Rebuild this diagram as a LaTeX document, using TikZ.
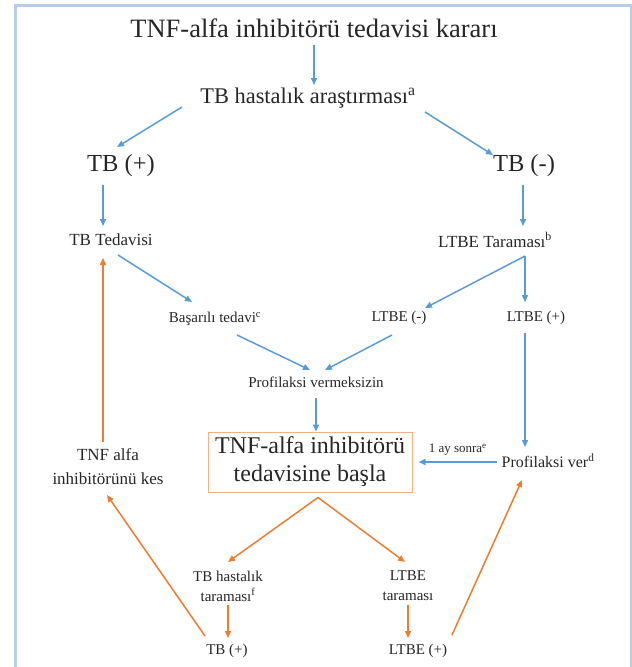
\documentclass[tikz,border=0pt]{standalone}
\usepackage{fontspec}
\setmainfont{Liberation Serif}
\usetikzlibrary{arrows.meta,calc}

\definecolor{arrowblue}{RGB}{91,155,213}
\definecolor{arroworange}{RGB}{237,125,49}
\definecolor{frameblue}{RGB}{184,204,236}
\definecolor{boxorange}{RGB}{244,177,131}

\newcommand{\fs}[1]{\fontsize{#1}{#1}\selectfont}

\begin{document}
\begin{tikzpicture}[x=1pt,y=-1pt,
    lbl/.style={inner sep=0pt, text=black!85, align=center},
    barrow/.style={-{Triangle[length=7pt,width=6pt]}, line width=1.5pt, arrowblue},
    oarrow/.style={-{Triangle[length=7pt,width=6pt]}, line width=1.5pt, arroworange}]

    \useasboundingbox (0,0) rectangle (632,667);

    % Frame
    \draw[frameblue, line width=3pt] (15,680) -- (15,5) -- (631,5) -- (631,680);

    % Top part
    \node[lbl, font=\fs{26.5}] (karar) at (314,28) {TNF-alfa inhibitörü tedavisi kararı};
    \node[lbl, font=\fs{22.4}] (arast) at (308,98) {TB hastalık araştırması\textsuperscript{a}};
    \node[lbl, font=\fs{24.5}] (tbpos) at (121,166) {TB (+)};
    \node[lbl, font=\fs{24.5}] (tbneg) at (524,166) {TB (-)};
    \node[lbl, font=\fs{17}] (tbted) at (111,240) {TB Tedavisi};
    \node[lbl, font=\fs{17}] (ltbetar) at (495,240) {LTBE Taraması\textsuperscript{b}};

    % Middle part
    \node[lbl, font=\fs{15}] (basarili) at (215,319) {Başarılı tedavi\textsuperscript{c}};
    \node[lbl, font=\fs{15}] (ltbeneg) at (399,318) {LTBE (-)};
    \node[lbl, font=\fs{15}] (ltbepos) at (536,318) {LTBE (+)};
    \node[lbl, font=\fs{15}] (profvm) at (316,382) {Profilaksi vermeksizin};
    \node[lbl, draw=boxorange, line width=1pt, minimum width=204pt, minimum height=60pt,
        font=\fontsize{24}{28}\selectfont] (basla) at (310,462) {TNF-alfa inhibitörü\\tedavisine başla};
    \node[lbl, font=\fs{16}] (profver) at (548,461) {Profilaksi ver\textsuperscript{d}};
    \node[lbl, font=\fontsize{17}{24}\selectfont] (kes) at (108,467) {TNF alfa\\inhibitörünü kes};

    % Bottom part
    \node[lbl, font=\fontsize{15}{20}\selectfont] (tbtar) at (228,586) {TB hastalık\\taraması\textsuperscript{f}};
    \node[lbl, font=\fontsize{15}{20}\selectfont] (ltbetar2) at (408,586) {LTBE\\taraması};
    \node[lbl, font=\fs{15}] (tbpos2) at (227,651) {TB (+)};
    \node[lbl, font=\fs{15}] (ltbepos2) at (418,651) {LTBE (+)};

    % Blue arrows
    \draw[barrow] ([shift={(0,17)}]karar.center) -- ([shift={(6,-13)}]arast.center);
    \draw[barrow] ([shift={(-126,9)}]arast.center) -- ([shift={(-4,-19)}]tbpos.center);
    \draw[barrow] ([shift={(117,14)}]arast.center) -- ([shift={(-31,-11)}]tbneg.center);
    \draw[barrow] ([shift={(-18,19)}]tbpos.center) -- ([shift={(-8,-14)}]tbted.center);
    \draw[barrow] ([shift={(-1,19)}]tbneg.center) -- ([shift={(28,-14)}]ltbetar.center);
    \draw[barrow] ([shift={(7,15)}]tbted.center) -- ([shift={(-23,-17)}]basarili.center);
    \draw[barrow] ([shift={(30,16)}]ltbetar.center) -- ([shift={(26,-10)}]ltbeneg.center);
    \draw[barrow] ([shift={(30,16)}]ltbetar.center) -- ([shift={(-11,-16)}]ltbepos.center);
    \draw[barrow] ([shift={(22,16)}]basarili.center) -- ([shift={(-6,-12)}]profvm.center);
    \draw[barrow] ([shift={(-7,17)}]ltbeneg.center) -- ([shift={(9,-12)}]profvm.center);
    \draw[barrow] ([shift={(0,16)}]profvm.center) -- (basla.north -| profvm.center);
    \draw[barrow] ([shift={(-11,15)}]ltbepos.center) -- ([shift={(-23,-14)}]profver.center);
    \draw[barrow] ([shift={(-51,1)}]profver.center) -- node[lbl, above=6pt, font=\fs{13}]
        {1 ay sonra\textsuperscript{e}} ([shift={(6,0)}]basla.east);

    % Orange arrows
    \draw[oarrow] ([shift={(-5,-25)}]kes.center) -- ([shift={(-8,18)}]tbted.center);
    \draw[oarrow] ([shift={(8,5)}]basla.south) -- ([shift={(0,-24)}]tbtar.center);
    \draw[oarrow] ([shift={(8,5)}]basla.south) -- ([shift={(-3,-24)}]ltbetar2.center);
    \draw[oarrow] ([shift={(0,19)}]tbtar.center) -- ([shift={(1,-13)}]tbpos2.center);
    \draw[oarrow] ([shift={(0,19)}]ltbetar2.center) -- ([shift={(-10,-13)}]ltbepos2.center);
    \draw[oarrow] ([shift={(-22,-15)}]tbpos2.center) -- ([shift={(-1,28)}]kes.center);
    \draw[oarrow] ([shift={(34,-16)}]ltbepos2.center) -- ([shift={(-26,19)}]profver.center);

\end{tikzpicture}
\end{document}
